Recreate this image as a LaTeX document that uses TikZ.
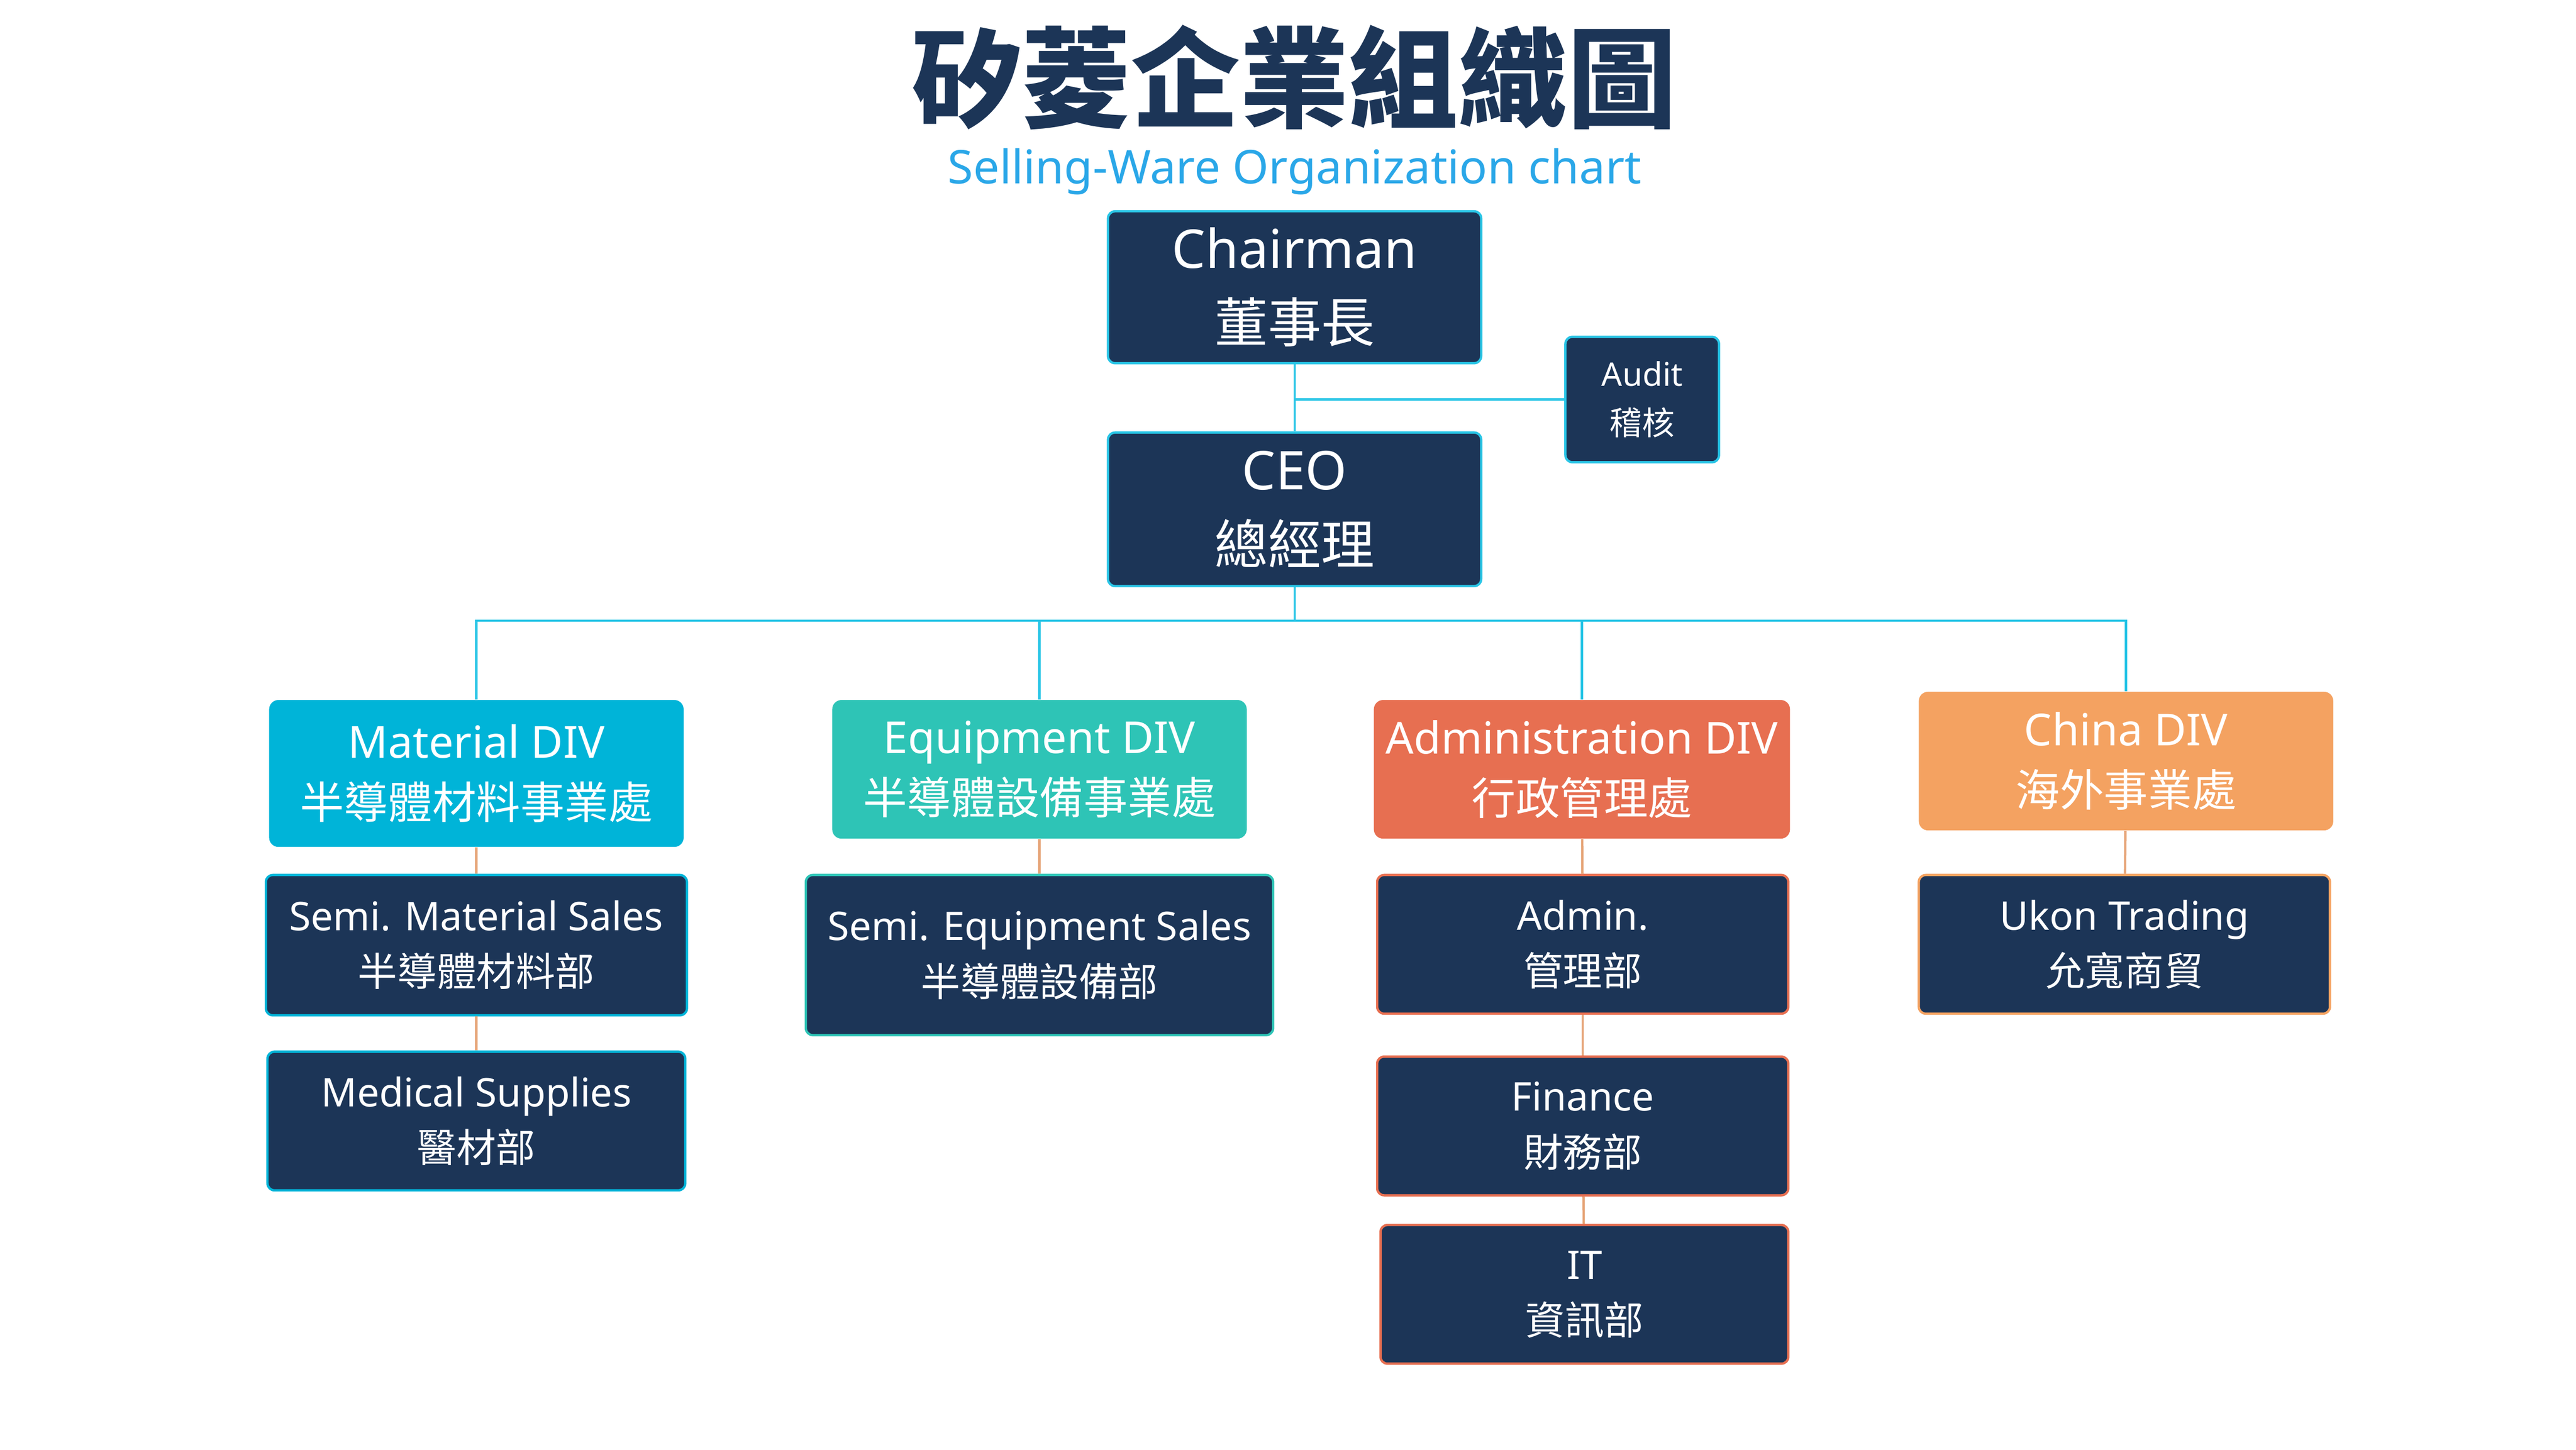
\documentclass[tikz,border=0pt]{standalone}
\usepackage{fontspec}
\setmainfont{Noto Sans}
\newfontfamily\cjk{Noto Sans CJK TC}
\usetikzlibrary{positioning}
\definecolor{navy}{HTML}{1C3557}
\definecolor{skyline}{HTML}{29C5E6}
\definecolor{subtitle}{HTML}{2AA7E8}
\definecolor{matdiv}{HTML}{00B4D8}
\definecolor{eqdiv}{HTML}{2EC4B6}
\definecolor{admdiv}{HTML}{E76F51}
\definecolor{chndiv}{HTML}{F4A261}
\definecolor{tanline}{HTML}{E6A477}
\tikzset{
  box/.style={draw=#1, fill=navy, text=white, rounded corners=3pt, line width=1pt, align=center, inner sep=0pt},
  div/.style={fill=#1, text=white, rounded corners=4pt, align=center, inner sep=0pt},
  link/.style={draw=skyline, line width=1pt},
  sublink/.style={draw=tanline, line width=1pt}
}
\begin{document}
\begin{tikzpicture}[x=0.025cm, y=-0.025cm]
\useasboundingbox (0,0) rectangle (1560,878);
% title
\node[text=navy, font=\cjk\bfseries\fontsize{47}{54}\selectfont] (title) at (784,47) {矽菱企業組織圖};
\node[text=subtitle, font=\fontsize{20}{24}\selectfont] (sub) at (784,104) {Selling-Ware Organization chart};

% top
\node[box=skyline, minimum width=226*0.025cm, minimum height=92*0.025cm, font=\fontsize{23}{32}\selectfont] (chair) at (784,174) {Chairman\\{\cjk 董事長}};
\node[box=skyline, minimum width=93*0.025cm, minimum height=76*0.025cm, font=\fontsize{14}{21}\selectfont] (audit) at (994.5,242) {Audit\\{\cjk 稽核}};
\node[box=skyline, minimum width=226*0.025cm, minimum height=93*0.025cm, font=\fontsize{23}{32}\selectfont] (ceo) at (784,308.5) {CEO\\{\cjk 總經理}};
\draw[link] (chair) -- (ceo);
\draw[link] (chair.south |- audit.west) -- (audit.west);

% divisions
\node[div=matdiv, minimum width=251*0.025cm, minimum height=89*0.025cm, font=\fontsize{19}{26}\selectfont] (mat) at (288.5,468.5) {Material DIV\\{\cjk 半導體材料事業處}};
\node[div=eqdiv, minimum width=251*0.025cm, minimum height=84*0.025cm, font=\fontsize{19}{26}\selectfont] (equ) at (629.5,466) {Equipment DIV\\{\cjk 半導體設備事業處}};
\node[div=admdiv, minimum width=252*0.025cm, minimum height=84*0.025cm, font=\fontsize{19}{26}\selectfont] (adm) at (958,466) {Administration DIV\\{\cjk 行政管理處}};
\node[div=chndiv, minimum width=251*0.025cm, minimum height=84*0.025cm, font=\fontsize{19}{26}\selectfont] (chn) at (1287.5,461) {China DIV\\{\cjk 海外事業處}};
\coordinate (bus) at (784,376);
\draw[link] (ceo.south) -- (bus);
\draw[link] (mat.north) |- (bus) -| (chn.north);
\draw[link] (equ.north) -- (equ.north |- bus);
\draw[link] (adm.north) -- (adm.north |- bus);

% departments
\node[box=matdiv, minimum width=255*0.025cm, minimum height=85*0.025cm, font=\fontsize{17}{24}\selectfont] (sms) at (288.5,572.5) {Semi. Material Sales\\{\cjk 半導體材料部}};
\node[box=matdiv, minimum width=253*0.025cm, minimum height=84*0.025cm, font=\fontsize{17}{24}\selectfont] (med) at (288.5,679) {Medical Supplies\\{\cjk 醫材部}};
\node[box=eqdiv, minimum width=283*0.025cm, minimum height=97*0.025cm, font=\fontsize{17}{24}\selectfont] (ses) at (629.5,578.5) {Semi. Equipment Sales\\{\cjk 半導體設備部}};
\node[box=admdiv, minimum width=249*0.025cm, minimum height=84*0.025cm, font=\fontsize{17}{24}\selectfont] (admin) at (958.5,572) {Admin.\\{\cjk 管理部}};
\node[box=admdiv, minimum width=249*0.025cm, minimum height=84*0.025cm, font=\fontsize{17}{24}\selectfont] (fin) at (958.5,682) {Finance\\{\cjk 財務部}};
\node[box=admdiv, minimum width=247*0.025cm, minimum height=84*0.025cm, font=\fontsize{17}{24}\selectfont] (it) at (959.5,784) {IT\\{\cjk 資訊部}};
\node[box=chndiv, minimum width=249*0.025cm, minimum height=84*0.025cm, font=\fontsize{17}{24}\selectfont] (ukon) at (1286.5,572) {Ukon Trading\\{\cjk 允寬商貿}};

\draw[sublink] (mat) -- (sms);
\draw[sublink] (sms) -- (med);
\draw[sublink] (equ) -- (ses);
\draw[sublink] (adm) -- (admin);
\draw[sublink] (admin) -- (fin);
\draw[sublink] (fin) -- (it);
\draw[sublink] (chn) -- (ukon);
\end{tikzpicture}
\end{document}
